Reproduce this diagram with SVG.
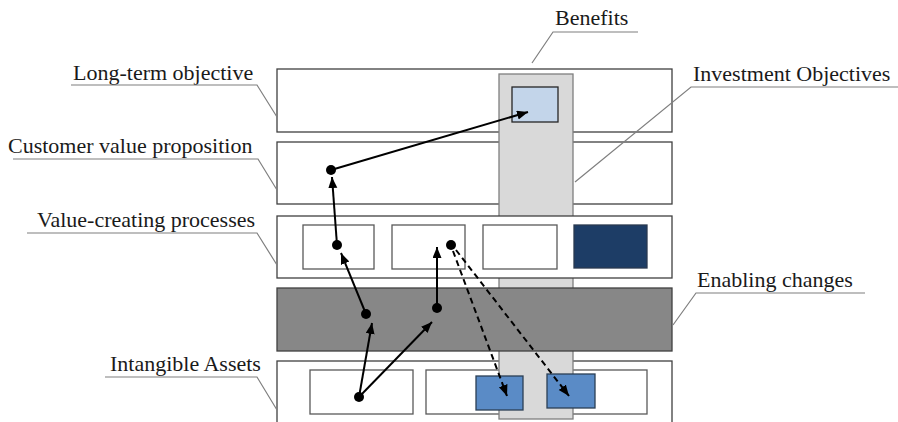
<svg xmlns="http://www.w3.org/2000/svg" width="898" height="422" viewBox="0 0 898 422">
<defs>
<marker id="ah" markerWidth="12" markerHeight="10" refX="11" refY="4.5" orient="auto" markerUnits="userSpaceOnUse">
<path d="M0,0 L11,4.5 L0,9 z" fill="#000"/>
</marker>
</defs>
<style>
.row{fill:#fff;stroke:#404040;stroke-width:1.3}
.inner{fill:#fff;stroke:#595959;stroke-width:1.3}
.col{fill:#d9d9d9;stroke:#7f7f7f;stroke-width:1.3}
.band{fill:#878787;stroke:#404040;stroke-width:1.3}
.lbl{font-family:"Liberation Serif","Times New Roman",serif;font-size:22px;fill:#1a1a1a}
.lead{fill:none;stroke:#7f7f7f;stroke-width:1.2}
.arr{stroke:#000;stroke-width:2;fill:none;marker-end:url(#ah)}
.dash{stroke-dasharray:6,4}
.dot{fill:#000}
</style>
<rect width="898" height="422" fill="#fff"/>
<g id="row-long-term"><rect class="row" x="277" y="69" width="395" height="63"/></g>
<g id="row-customer"><rect class="row" x="277" y="142" width="395" height="62"/></g>
<g id="row-intangible">
<rect class="row" x="277" y="361" width="395" height="70"/>
<rect class="inner" x="310" y="370" width="103" height="44"/>
<rect class="inner" x="426" y="370" width="221" height="44"/>
</g>
<g id="benefits-column"><rect class="col" x="499" y="74" width="74" height="345"/></g>
<g id="row-value-creating">
<rect class="row" x="277" y="216" width="395" height="62"/>
<rect class="inner" x="303" y="225" width="71" height="44"/>
<rect class="inner" x="392" y="225" width="73" height="44"/>
<rect class="inner" x="483" y="225" width="74" height="44"/>
<rect x="574" y="225" width="73" height="43" fill="#1d3d66" stroke="#2a3a50" stroke-width="1.3"/>
</g>
<g id="enabling-band"><rect class="band" x="277" y="288" width="395" height="63"/></g>
<g id="investment-objective"><rect x="512" y="87" width="46" height="35" fill="#c3d5ea" stroke="#262626" stroke-width="1.3"/></g>
<g id="benefit-boxes">
<rect x="476" y="376" width="47" height="34" fill="#5a8bc6" stroke="#2b3f55" stroke-width="1.3"/>
<rect x="547" y="374" width="48" height="34" fill="#5a8bc6" stroke="#2b3f55" stroke-width="1.3"/>
</g>
<g id="labels">
<text class="lbl" x="73" y="80">Long-term objective</text>
<polyline class="lead" points="71,85 257,85 277,117"/>
<text class="lbl" x="8" y="153">Customer value proposition</text>
<polyline class="lead" points="13,159 258,159 277,190"/>
<text class="lbl" x="37" y="227">Value-creating processes</text>
<polyline class="lead" points="27,233 257,233 277,265"/>
<text class="lbl" x="110" y="371">Intangible Assets</text>
<polyline class="lead" points="105,377 257,377 277,410"/>
<text class="lbl" x="555" y="25">Benefits</text>
<polyline class="lead" points="638,32 553,32 532,63"/>
<text class="lbl" x="693" y="81">Investment Objectives</text>
<polyline class="lead" points="898,87 691,87 575,182"/>
<text class="lbl" x="697" y="287">Enabling changes</text>
<polyline class="lead" points="865,293 696,293 673,325"/>
</g>
<g id="connectors">
<line class="arr" x1="331" y1="170" x2="528" y2="112"/>
<line class="arr" x1="337" y1="245" x2="332" y2="177"/>
<line class="arr" x1="366" y1="314" x2="341" y2="253"/>
<line class="arr" x1="437" y1="308" x2="437" y2="247"/>
<line class="arr" x1="359" y1="397" x2="372" y2="323"/>
<line class="arr" x1="359" y1="397" x2="432" y2="322"/>
<line class="arr dash" x1="453" y1="251" x2="507" y2="396"/>
<line class="arr dash" x1="456" y1="250" x2="569" y2="396"/>
<circle class="dot" cx="331" cy="170" r="5"/>
<circle class="dot" cx="337" cy="245" r="5"/>
<circle class="dot" cx="366" cy="314" r="5"/>
<circle class="dot" cx="437" cy="308" r="5"/>
<circle class="dot" cx="359" cy="397" r="5"/>
<circle class="dot" cx="451" cy="245" r="5"/>
</g>
</svg>
